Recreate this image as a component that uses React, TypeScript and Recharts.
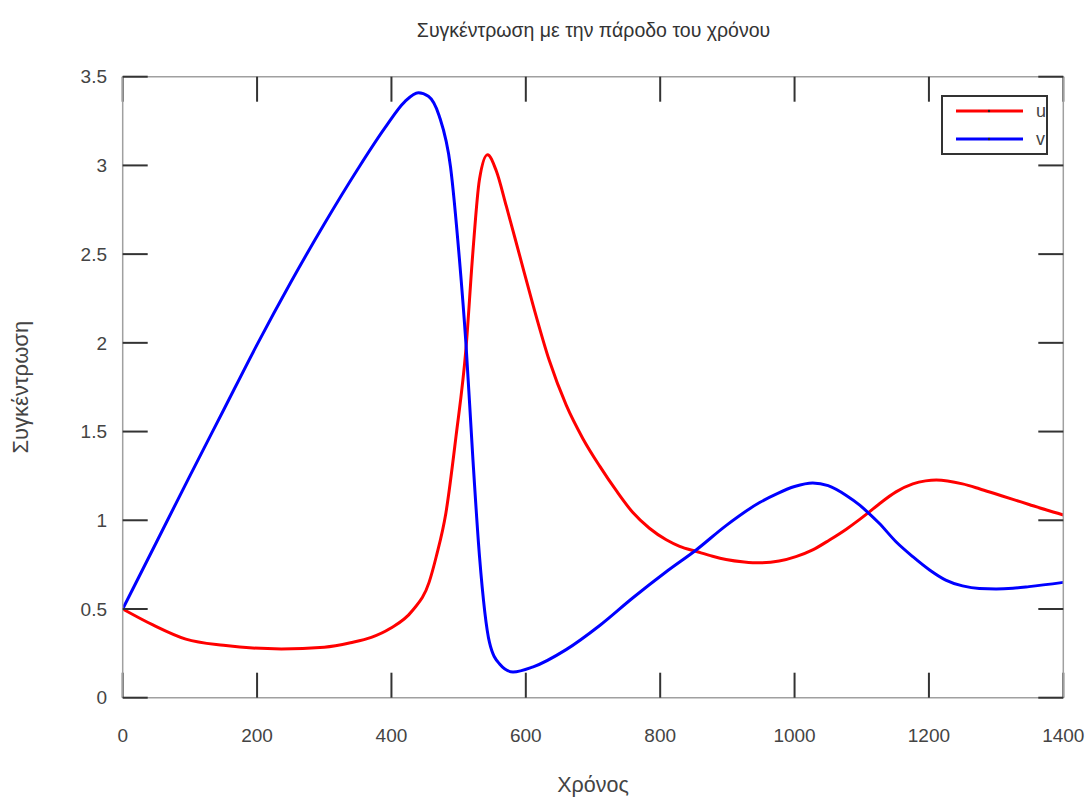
import React from "react";
import { LineChart, Line, XAxis, YAxis, Legend } from "recharts";

// readings of u (red) and v (blue) off the reference picture
const uTime = [0, 45, 94, 150, 236, 300, 339, 370, 398, 431, 456, 467, 481, 496, 511, 521, 531, 543, 556, 571, 591, 611, 635, 660, 685, 710, 735, 759, 784, 809, 829, 854, 878, 898, 925, 948, 977, 1002, 1027, 1052, 1077, 1097, 1109, 1126, 1151, 1176, 1195, 1211, 1250, 1275, 1300, 1325, 1349, 1374, 1400];
const uValues = [0.5, 0.41, 0.33, 0.295, 0.275, 0.285, 0.31, 0.34, 0.39, 0.49, 0.65, 0.8, 1.04, 1.47, 1.97, 2.5, 2.92, 3.06, 2.97, 2.77, 2.49, 2.21, 1.9, 1.65, 1.46, 1.305, 1.165, 1.045, 0.955, 0.89, 0.853, 0.824, 0.797, 0.779, 0.765, 0.76, 0.77, 0.795, 0.833, 0.889, 0.95, 1.005, 1.04, 1.092, 1.16, 1.205, 1.222, 1.227, 1.205, 1.178, 1.148, 1.118, 1.089, 1.059, 1.03];

const vTime = [0, 50, 100, 150, 200, 250, 300, 350, 390, 420, 440, 455, 471, 488, 501, 511, 521, 531, 546, 561, 581, 611, 660, 710, 759, 809, 854, 898, 948, 975, 1000, 1027, 1050, 1077, 1097, 1109, 1126, 1151, 1176, 1201, 1225, 1250, 1275, 1300, 1325, 1349, 1400];
const vValues = [0.5, 0.875, 1.25, 1.62, 1.99, 2.34, 2.67, 2.98, 3.21, 3.36, 3.41, 3.39, 3.28, 2.99, 2.48, 1.99, 1.36, 0.8, 0.31, 0.19, 0.145, 0.174, 0.271, 0.407, 0.562, 0.71, 0.834, 0.97, 1.1, 1.152, 1.19, 1.21, 1.195, 1.14, 1.085, 1.045, 0.983, 0.879, 0.795, 0.72, 0.663, 0.63, 0.615, 0.613, 0.617, 0.626, 0.65];

const xTicks = [0, 200, 400, 600, 800, 1000, 1200, 1400];
const yTicks = [0, 0.5, 1, 1.5, 2, 2.5, 3, 3.5];

const uData = uTime.map((t, i) => ({ t, u: uValues[i] }));
const vData = vTime.map((t, i) => ({ t, v: vValues[i] }));

const FONT = '"Liberation Sans", Arial, sans-serif';
const frame = { stroke: "#a0a0a0", strokeWidth: 1.5 };
const tickLine = { stroke: "#333", strokeWidth: 2 };
const tickText = { fontSize: 19, fill: "#444", fontFamily: FONT };
const noLabel = () => "";

function LegendBox({ payload }: any) {
  return (
    <div
      style={{
        border: "2px solid #333",
        background: "#fff",
        width: 103,
        height: 56,
        boxSizing: "content-box",
        fontFamily: FONT,
      }}
    >
      {(payload || []).map((p: any) => (
        <div key={p.value} style={{ display: "flex", alignItems: "center", height: 28 }}>
          <svg width={93} height={10} style={{ display: "block" }}>
            <line x1={13} x2={80} y1={5} y2={5} stroke={p.color} strokeWidth={3} />
            <circle cx={46} cy={5} r={1.2} fill="#222" />
          </svg>
          <span style={{ fontSize: 18, color: "#444" }}>{p.value}</span>
        </div>
      ))}
    </div>
  );
}

export default function App() {
  return (
    <div
      style={{
        position: "absolute",
        left: 0,
        top: 0,
        width: 1087,
        height: 798,
        background: "#fff",
      }}
    >
      <div
        style={{
          position: "absolute",
          top: 19,
          left: 0,
          width: 1187,
          textAlign: "center",
          fontFamily: FONT,
          fontSize: 19.5,
          color: "#333",
        }}
      >
        Συγκέντρωση με την πάροδο του χρόνου
      </div>
      <LineChart
        width={1087}
        height={798}
        margin={{ top: 56.7, right: 3.7, bottom: 0, left: 0 }}
      >
        <XAxis
          dataKey="t"
          type="number"
          domain={[0, 1400]}
          ticks={xTicks}
          allowDataOverflow
          height={100.3}
          tickSize={-25}
          tickMargin={56}
          axisLine={frame}
          tickLine={tickLine}
          tick={tickText}
          label={{
            value: "Χρόνος",
            position: "insideBottom",
            offset: 6,
            style: { fontSize: 21.5, fill: "#444", fontFamily: FONT },
          }}
        />
        <XAxis
          xAxisId="top"
          orientation="top"
          dataKey="t"
          type="number"
          domain={[0, 1400]}
          ticks={xTicks}
          allowDataOverflow
          height={20}
          tickSize={-25}
          axisLine={frame}
          tickLine={tickLine}
          tick={tickText}
          tickFormatter={noLabel}
        />
        <YAxis
          type="number"
          domain={[0, 3.5]}
          ticks={yTicks}
          allowDataOverflow
          width={122.7}
          tickSize={-25}
          tickMargin={40.7}
          axisLine={frame}
          tickLine={tickLine}
          tick={tickText}
          label={{
            value: "Συγκέντρωση",
            angle: -90,
            position: "insideLeft",
            offset: 20,
            style: { fontSize: 22, fill: "#444", fontFamily: FONT, textAnchor: "middle" },
          }}
        />
        <YAxis
          yAxisId="right"
          orientation="right"
          type="number"
          domain={[0, 3.5]}
          ticks={yTicks}
          allowDataOverflow
          width={20}
          tickSize={-25}
          axisLine={frame}
          tickLine={tickLine}
          tick={tickText}
          tickFormatter={noLabel}
        />
        <Legend
          layout="horizontal"
          verticalAlign="middle"
          align="center"
          wrapperStyle={{ left: 941, top: 95, width: 107, height: 60 }}
          content={<LegendBox />}
        />
        <Line
          data={uData}
          dataKey="u"
          name="u"
          xAxisId="top"
          yAxisId="right"
          type="monotone"
          stroke="#ff0000"
          strokeWidth={3}
          dot={false}
          isAnimationActive={false}
        />
        <Line
          data={vData}
          dataKey="v"
          name="v"
          type="monotone"
          stroke="#0000ff"
          strokeWidth={3}
          dot={false}
          isAnimationActive={false}
        />
      </LineChart>
    </div>
  );
}
